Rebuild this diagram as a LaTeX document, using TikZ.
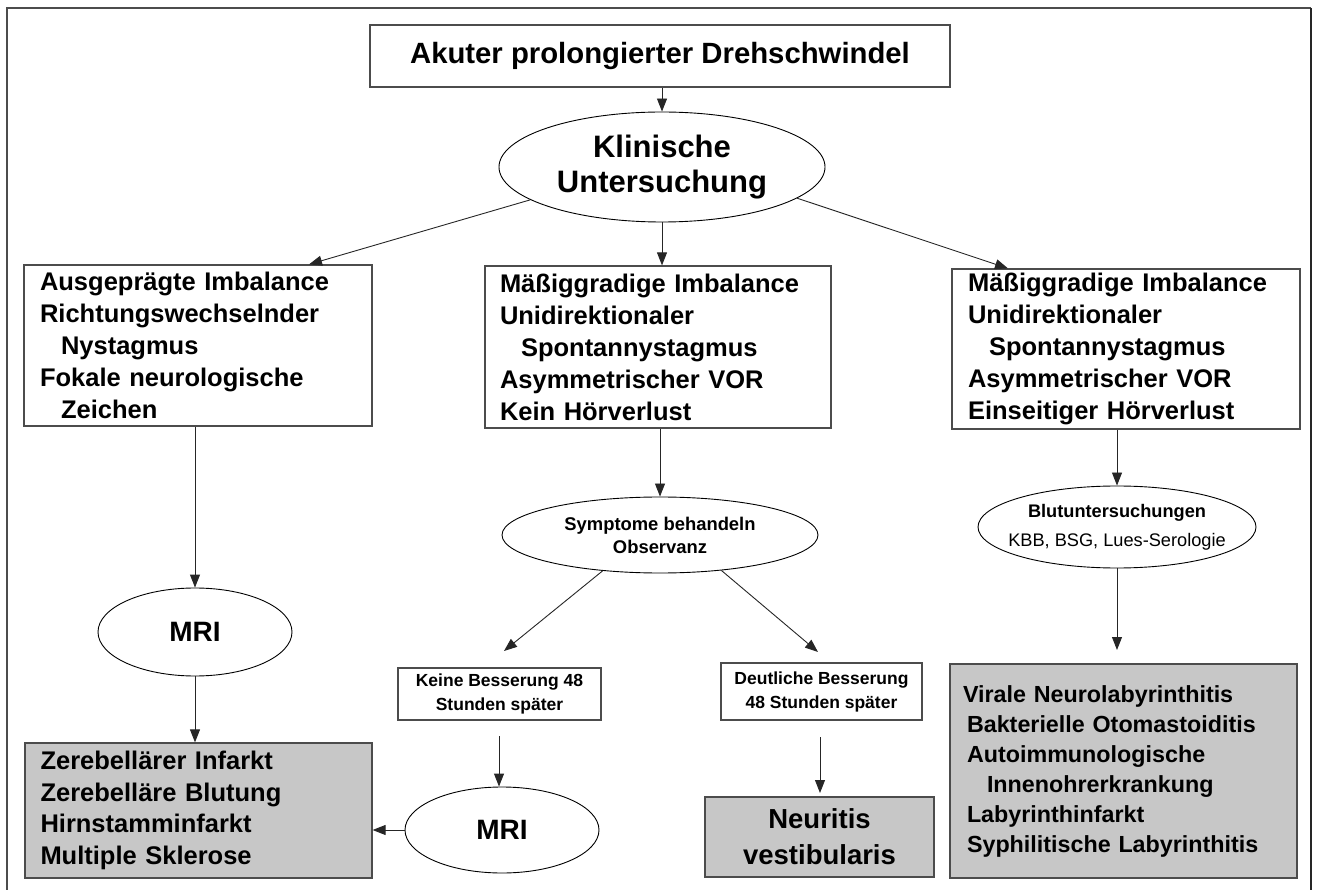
\documentclass[tikz,border=0pt]{standalone}
\usepackage{fontspec}
\setmainfont{Liberation Sans}
\usetikzlibrary{arrows.meta}
\usetikzlibrary{shapes.geometric}
\tikzset{box/.style = {draw = black!70, line width = 1.2pt, inner sep = 0}}
\tikzset{greybox/.style = {box, fill = black!22}}
\tikzset{oval/.style = {draw, ellipse, line width = 0.9pt, inner sep = 0}}
\tikzset{arr/.style = {-{Triangle[length = 13pt, width = 10pt]}, line width = 0.9pt, black!85}}
\tikzset{big/.style = {font = \bfseries\fontsize{25.5}{32}\selectfont}}
\tikzset{small/.style = {font = \bfseries\fontsize{17.5}{24}\selectfont}}

\begin{document}
\begin{tikzpicture}[x = 1pt, y = -1pt]
    \useasboundingbox (0, 0) rectangle (1318, 890);
    \draw [line width = 1.5pt, black!70] (7, 890) -- (7, 8) -- (1311, 8);
    \draw [line width = 2.5pt, black!85] (1311, 8) -- (1311, 890);

    \node [box, minimum width = 580pt, minimum height = 62pt, font = \bfseries\fontsize{29.3}{35}\selectfont] (start) at (660, 56) {Akuter prolongierter Drehschwindel};
    \node [oval, minimum width = 326pt, minimum height = 110pt] (exam) at (662, 167) {};
    \node [align = center, font = \bfseries\fontsize{31}{35}\selectfont] (examtext) at (exam) {Klinische\\Untersuchung};

    \node [box, big, minimum width = 348pt, minimum height = 161pt, text width = 316pt, align = left] (strong) at (198, 345.5) {Ausgeprägte Imbalance\\Richtungswechselnder\\\hspace*{21pt}Nystagmus\\Fokale neurologische\\\hspace*{21pt}Zeichen};
    \node [box, big, minimum width = 346pt, minimum height = 162pt, text width = 316pt, align = left] (mild) at (658, 347) {Mäßiggradige Imbalance\\Unidirektionaler\\\hspace*{21pt}Spontannystagmus\\Asymmetrischer VOR\\Kein Hörverlust};
    \node [box, big, minimum width = 348pt, minimum height = 160pt, text width = 316pt, align = left] (hear) at (1126, 349) {Mäßiggradige Imbalance\\Unidirektionaler\\\hspace*{21pt}Spontannystagmus\\Asymmetrischer VOR\\Einseitiger Hörverlust};

    \node [oval, minimum width = 194pt, minimum height = 88pt] (mrileft) at (195, 632) {};
    \node [font = \bfseries\fontsize{28}{34}\selectfont] (mrilefttext) at (mrileft) {MRI};
    \node [greybox, big, minimum width = 347pt, minimum height = 135pt, text width = 316pt, align = left, font = \bfseries\fontsize{25.5}{31.7}\selectfont] (diagleft) at (198.5, 810.5) {Zerebellärer Infarkt\\Zerebelläre Blutung\\Hirnstamminfarkt\\Multiple Sklerose};

    \node [oval, minimum width = 316pt, minimum height = 76pt] (treat) at (660, 535) {};
    \node [align = center, font = \bfseries\fontsize{18.4}{23}\selectfont] (treattext) at (treat) {Symptome behandeln\\Observanz};
    \node [box, small, minimum width = 203pt, minimum height = 52pt, align = center] (worse) at (499.5, 694) {Keine Besserung 48\\Stunden später};
    \node [box, small, minimum width = 201pt, minimum height = 57pt, align = center] (better) at (821.5, 691.5) {Deutliche Besserung\\48 Stunden später};
    \node [oval, minimum width = 194pt, minimum height = 86pt] (mriright) at (502, 830) {};
    \node [font = \bfseries\fontsize{28}{34}\selectfont] (mririghttext) at (mriright) {MRI};
    \node [greybox, minimum width = 229pt, minimum height = 80pt, align = center, font = \bfseries\fontsize{27.5}{36}\selectfont] (neuritis) at (819.5, 837) {Neuritis\\vestibularis};

    \node [oval, minimum width = 278pt, minimum height = 82pt] (blood) at (1117, 527) {};
    \node [align = center, font = \fontsize{18.2}{29}\selectfont] (bloodtext) at (blood) {\textbf{Blutuntersuchungen}\\KBB, BSG, Lues-Serologie};
    \node [greybox, minimum width = 347pt, minimum height = 214pt, text width = 321pt, align = left, font = \bfseries\fontsize{23.3}{30}\selectfont] (diagright) at (1123.5, 771) {Virale Neurolabyrinthitis\\\hspace*{4pt}Bakterielle Otomastoiditis\\\hspace*{4pt}Autoimmunologische\\\hspace*{24pt}Innenohrerkrankung\\\hspace*{4pt}Labyrinthinfarkt\\\hspace*{4pt}Syphilitische Labyrinthitis};

    \coordinate (worsetip) at (504, 651);
    \coordinate (bettertip) at (818, 652);
    \coordinate (worseout) at (499, 736);
    \coordinate (betterout) at (820, 737);
    \coordinate (neuritistip) at (820, 793);
    \coordinate (bloodtip) at (1117, 650);

    \draw [arr] (start.south -| exam.north) -- (exam.north);
    \draw [arr] (exam.194) -- ([xshift = 111pt] strong.north);
    \draw [arr] (exam.south) -- (exam.south |- mild.north);
    \draw [arr] (exam.347.6) -- ([xshift = -118pt] hear.north);
    \draw [arr] (strong.south -| mrileft.north) -- (mrileft.north);
    \draw [arr] (mrileft.south) -- (mrileft.south |- diagleft.north);
    \draw [arr] (mild.south -| treat.north) -- (treat.north);
    \draw [arr] (treat.212.5) -- (worsetip);
    \draw [arr] (treat.330) -- (bettertip);
    \draw [arr] (worseout) -- (worseout |- mriright.north);
    \draw [arr] (mriright.west) -- (diagleft.east |- mriright.west);
    \draw [arr] (betterout) -- (neuritistip);
    \draw [arr] (hear.south -| blood.north) -- (blood.north);
    \draw [arr] (blood.south) -- (bloodtip);
\end{tikzpicture}
\end{document}
